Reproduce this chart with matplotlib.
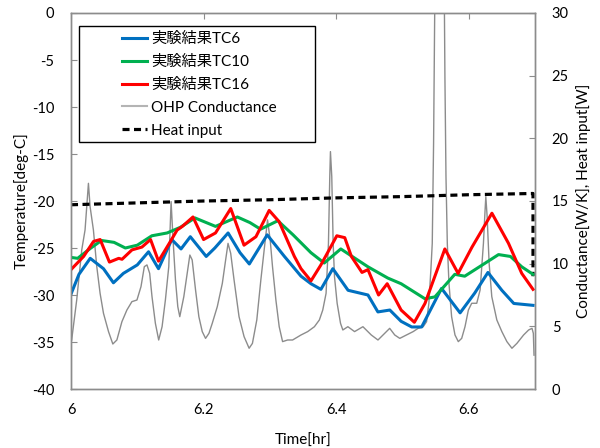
import matplotlib
matplotlib.use("Agg")
import matplotlib.pyplot as plt
from matplotlib.lines import Line2D
from matplotlib.patches import Rectangle

# ---- data ----
t_tc6 = [6.000, 6.012, 6.029, 6.049, 6.064, 6.079, 6.100, 6.117, 6.132, 6.152, 6.166,
         6.180, 6.204, 6.217, 6.237, 6.255, 6.269, 6.296, 6.322, 6.347, 6.362, 6.377,
         6.395, 6.418, 6.448, 6.463, 6.481, 6.498, 6.514, 6.529, 6.559, 6.587, 6.609,
         6.629, 6.650, 6.668, 6.697]
v_tc6 = [-29.9, -27.8, -26.1, -27.2, -28.7, -27.7, -26.8, -25.4, -27.2, -24.1, -25.1,
         -23.8, -25.9, -25.0, -23.4, -25.5, -26.7, -23.6, -25.9, -28.0, -28.8, -29.4,
         -27.2, -29.5, -30.0, -31.8, -31.6, -32.8, -33.4, -33.4, -29.3, -31.9, -29.8,
         -27.6, -29.5, -30.9, -31.1]

t_tc10 = [6.000, 6.010, 6.030, 6.046, 6.065, 6.082, 6.100, 6.122, 6.145, 6.165, 6.187,
          6.218, 6.251, 6.270, 6.286, 6.312, 6.335, 6.362, 6.382, 6.407, 6.448, 6.478,
          6.498, 6.534, 6.549, 6.579, 6.594, 6.645, 6.663, 6.680, 6.697]
v_tc10 = [-26.0, -26.1, -25.0, -24.2, -24.4, -25.0, -24.7, -23.7, -23.4, -22.8, -21.8,
          -22.7, -21.7, -22.3, -23.0, -22.1, -23.6, -25.5, -26.6, -25.1, -27.0, -28.2,
          -28.8, -30.4, -30.2, -27.8, -28.0, -25.7, -25.9, -27.0, -27.8]

t_tc16 = [6.000, 6.019, 6.034, 6.044, 6.058, 6.072, 6.077, 6.092, 6.107, 6.120, 6.132,
          6.150, 6.160, 6.168, 6.184, 6.200, 6.218, 6.241, 6.261, 6.279, 6.299, 6.314,
          6.337, 6.347, 6.362, 6.377, 6.401, 6.413, 6.423, 6.439, 6.448, 6.464, 6.477,
          6.498, 6.518, 6.534, 6.564, 6.584, 6.605, 6.635, 6.660, 6.680, 6.697]
v_tc16 = [-27.3, -25.9, -24.3, -24.1, -26.5, -26.1, -26.2, -25.2, -24.9, -24.1, -26.4,
          -24.3, -23.1, -22.7, -21.7, -24.1, -23.4, -20.8, -24.7, -23.8, -21.0, -22.2,
          -25.9, -27.2, -28.5, -26.8, -23.7, -23.9, -25.9, -27.6, -27.3, -30.0, -28.8,
          -31.6, -32.9, -30.9, -25.1, -27.7, -24.9, -21.3, -24.5, -27.7, -29.4]

t_ohp = [6.0010, 6.0086, 6.0162, 6.0212, 6.0263, 6.0288, 6.0338, 6.0389, 6.0439, 6.0490,
         6.0566, 6.0631, 6.0692, 6.0768, 6.0843, 6.0919, 6.0995, 6.1056, 6.1106, 6.1146,
         6.1187, 6.1222, 6.1273, 6.1323, 6.1374, 6.1424, 6.1475, 6.1510, 6.1540, 6.1576,
         6.1611, 6.1641, 6.1702, 6.1753, 6.1793, 6.1828, 6.1879, 6.1929, 6.1980, 6.2030,
         6.2081, 6.2131, 6.2207, 6.2283, 6.2333, 6.2369, 6.2409, 6.2460, 6.2535, 6.2611,
         6.2687, 6.2737, 6.2803, 6.2864, 6.2914, 6.2965, 6.3005, 6.3040, 6.3091, 6.3141,
         6.3192, 6.3268, 6.3343, 6.3470, 6.3571, 6.3672, 6.3747, 6.3798, 6.3848, 6.3884,
         6.3904, 6.3914, 6.3934, 6.3955, 6.3975, 6.4015, 6.4066, 6.4101, 6.4177, 6.4278,
         6.4404, 6.4530, 6.4631, 6.4732, 6.4808, 6.4884, 6.4960, 6.5061, 6.5162, 6.5237,
         6.5313, 6.5364, 6.5399, 6.5429, 6.5450, 6.5470, 6.5490, 6.5631, 6.5641, 6.5657,
         6.5677, 6.5702, 6.5742, 6.5793, 6.5843, 6.5894, 6.5944, 6.5995, 6.6045, 6.6121,
         6.6172, 6.6222, 6.6247, 6.6258, 6.6278, 6.6308, 6.6348, 6.6424, 6.6500, 6.6576,
         6.6652, 6.6727, 6.6828, 6.6904, 6.6955, 6.6975, 6.6985]
v_ohp = [3.91, 7.10, 11.09, 12.69, 16.41, 14.55, 12.69, 9.76, 7.63, 6.04,
         4.58, 3.59, 3.91, 5.37, 6.30, 6.97, 7.10, 8.17, 9.76, 9.90,
         9.23, 7.37, 5.24, 3.91, 4.97, 7.10, 9.76, 14.95, 11.89, 8.70,
         6.57, 5.77, 7.37, 9.23, 10.69, 10.30, 7.90, 5.77, 4.58, 4.04,
         4.44, 5.24, 6.57, 8.43, 10.30, 11.62, 10.83, 8.70, 5.77, 4.18,
         3.25, 3.64, 5.51, 8.70, 11.09, 13.49, 11.89, 9.76, 7.10, 4.97,
         3.78, 3.91, 3.91, 4.31, 4.58, 4.97, 5.51, 6.30, 7.63, 11.62,
         16.95, 18.94, 16.95, 11.62, 8.97, 6.84, 5.24, 4.71, 4.97, 4.58,
         4.97, 4.31, 3.91, 4.44, 4.84, 4.31, 4.04, 4.31, 4.58, 4.84,
         4.97, 5.37, 6.84, 9.50, 11.62, 19.6, 32.0, 32.0, 24.9, 16.95,
         11.62, 8.43, 5.77, 4.31, 3.78, 4.04, 4.97, 6.30, 6.84, 6.84,
         7.90, 11.62, 14.29, 15.35, 13.75, 10.03, 7.37, 5.51, 4.58, 3.78,
         3.25, 3.64, 4.31, 4.71, 4.84, 4.44, 2.70]

t_heat = [6.000, 6.100, 6.200, 6.300, 6.400, 6.500, 6.600, 6.697, 6.697]
v_heat = [14.7, 14.85, 15.0, 15.1, 15.25, 15.35, 15.5, 15.6, 9.0]

x_ticks = [6.0, 6.2, 6.4, 6.6]
x_labels = ["6", "6.2", "6.4", "6.6"]
y_ticks = [0, -5, -10, -15, -20, -25, -30, -35, -40]
y2_ticks = [0, 5, 10, 15, 20, 25, 30]

labels = ["実験結果TC6", "実験結果TC10", "実験結果TC16", "OHP Conductance", "Heat input"]
colors = ["#0070C0", "#00B050", "#FF0000", "#8C8C8C", "#000000"]

# ---- plot ----
plt.rcParams['font.family'] = ['Lato', 'Noto Sans CJK JP', 'DejaVu Sans']
plt.rcParams['axes.unicode_minus'] = False
fig = plt.figure(figsize=(6.0, 4.48), dpi=100)
ax = fig.add_axes([71/600, 59/448, 464/600, 376/448])
ax2 = ax.twinx()

dash = (0, (2.2, 1.4))
ax2.plot(t_ohp, v_ohp, color=colors[3], lw=1.0)
ax2.plot(t_heat, v_heat, color=colors[4], lw=2.3, linestyle=dash)

ax.plot(t_tc6, v_tc6, color=colors[0], lw=2.2)
ax.plot(t_tc10, v_tc10, color=colors[1], lw=2.2)
ax.plot(t_tc16, v_tc16, color=colors[2], lw=2.2)

ax.set_zorder(ax2.get_zorder() + 1)
ax.patch.set_visible(False)

ax.set_xlim(6.0, 6.7)
ax.set_ylim(-40, 0)
ax2.set_ylim(0, 30)

ax.set_xticks(x_ticks)
ax.set_xticklabels(x_labels)
ax.set_yticks(y_ticks)
ax2.set_yticks(y2_ticks)

for a in (ax, ax2):
    for s in a.spines.values():
        s.set_color("#8C8C8C")
        s.set_linewidth(1.0)

ax.tick_params(axis='x', direction='in', top=True, bottom=False, labelbottom=True,
               length=4, color="#8C8C8C", pad=10, labelsize=10.5)
ax.tick_params(axis='y', direction='in', length=4, color="#8C8C8C", pad=12, labelsize=10.5)
ax2.tick_params(axis='y', direction='in', length=4, color="#8C8C8C", pad=12, labelsize=10.5)

ax.set_xlabel("Time[hr]", fontsize=11, labelpad=12)
ax.set_ylabel("Temperature[deg-C]", fontsize=11, labelpad=2)
ax2.set_ylabel("Conductance[W/K], Heat input[W]", fontsize=11, labelpad=5)

# legend frame (drawn separately, as in the original)
frame = Rectangle(((79 - 71) / 464, (389 - 142) / 376), (315 - 79) / 464, (142 - 26) / 376,
                  transform=ax.transAxes, facecolor="white", edgecolor="black",
                  lw=1.0, zorder=19)
ax.add_patch(frame)

handles = [Line2D([], [], color=colors[0], lw=2.2),
           Line2D([], [], color=colors[1], lw=2.2),
           Line2D([], [], color=colors[2], lw=2.2),
           Line2D([], [], color="#B4B4B4", lw=1.5),
           Line2D([], [], color=colors[4], lw=2.3, linestyle=dash)]
leg = ax.legend(handles, labels, loc='upper left',
                bbox_to_anchor=((119 - 71) / 464, (389 - 29) / 376),
                frameon=False, fontsize=11, handlelength=1.65, handletextpad=0.25,
                borderpad=0.2, labelspacing=0.58, borderaxespad=0)
leg.set_zorder(20)

fig.savefig("out.png", dpi=100)
